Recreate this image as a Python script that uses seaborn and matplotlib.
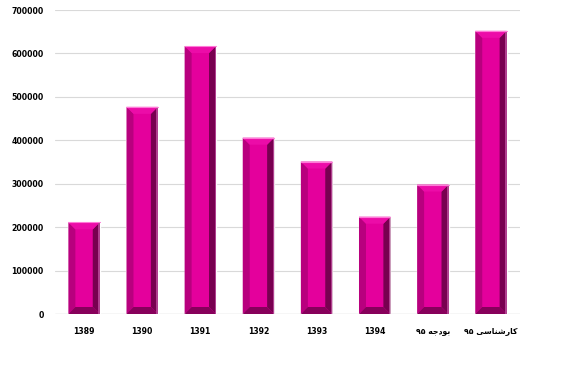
import pandas as pd
import seaborn as sns
import matplotlib.pyplot as plt

# labels: the two Persian ones are written in shaped, visual (LTR) order
# because matplotlib does no Arabic shaping/bidi
years = ["1389", "1390", "1391", "1392", "1393", "1394",
         "\u06F9\u06F5 \uFEEA\uFE9F\uFEA9\uFEEE\uFE91",                      # بودجه ۹۵
         "\u06F9\u06F5 \uFBFD\uFEB3\uFE8E\uFEE8\uFEB7\uFEAD\uFE8E\uFB90"]    # کارشناسی ۹۵
values = [211000, 477000, 617000, 406000, 351000, 224000, 298000, 652000]
yticks = [0, 100000, 200000, 300000, 400000, 500000, 600000, 700000]

face = "#e4009c"
left_c = "#b8007e"
right_c = "#780050"
bottom_c = "#87005b"
top_c = "#ec0ca8"

data = pd.DataFrame({"year": years, "value": values})

sns.set_theme(style="white")
plt.rcParams['font.family'] = ['DejaVu Sans']

fig = plt.figure(figsize=(5.61, 3.81), dpi=100)
ax = fig.add_axes([55 / 561, 1 - 314 / 381, 465 / 561, 304 / 381])

sns.barplot(data=data, x="year", y="value", color=face, width=0.54,
            saturation=1, ax=ax, zorder=3)

ax.set_ylim(0, 700000)
ax.set_xlim(-0.5, len(years) - 0.5)
ax.set_yticks(yticks)
ax.set_yticklabels([str(v) for v in yticks])
ax.yaxis.grid(True, color="#d9d9d9", linewidth=0.8, zorder=0)
ax.set_axisbelow(True)
for s in ax.spines.values():
    s.set_visible(False)
ax.axhline(0, color="#d0d0d0", linewidth=0.9, zorder=1)
ax.set_xlabel("")
ax.set_ylabel("")
ax.tick_params(axis="both", length=0, labelsize=5.6, colors="black")
ax.tick_params(axis="y", pad=8)
ax.tick_params(axis="x", pad=9)
for lab in ax.get_xticklabels() + ax.get_yticklabels():
    lab.set_fontweight("bold")

# bevel edges, ~7 px deep, converted to data units
bb = ax.get_window_extent()
xr = ax.get_xlim()[1] - ax.get_xlim()[0]
yr = ax.get_ylim()[1] - ax.get_ylim()[0]
dx = 7 * xr / bb.width
dy = 7 * yr / bb.height
edge = 1.5 * xr / bb.width
for p in ax.patches:
    x0, y0 = p.get_x(), p.get_y()
    x1, y1 = x0 + p.get_width(), y0 + p.get_height()
    ax.fill([x0, x0 + dx, x0 + dx, x0], [y0, y0 + dy, y1 - dy, y1],
            color=left_c, lw=0, zorder=4)
    ax.fill([x1, x1 - dx, x1 - dx, x1], [y0, y0 + dy, y1 - dy, y1],
            color=right_c, lw=0, zorder=4)
    ax.fill([x0, x1, x1 - dx, x0 + dx], [y0, y0, y0 + dy, y0 + dy],
            color=bottom_c, lw=0, zorder=4)
    ax.fill([x0, x1, x1 - dx, x0 + dx], [y1, y1, y1 - dy, y1 - dy],
            color=top_c, lw=0, zorder=4)
    ax.fill([x1 - edge, x1, x1, x1 - edge], [y0, y0, y1, y1],
            color="#b0408f", lw=0, zorder=5)
    ax.plot([x0, x1], [y1, y1], color="#ff7ad8", lw=0.8, zorder=5)

fig.savefig("out.png", dpi=100, facecolor="white")
